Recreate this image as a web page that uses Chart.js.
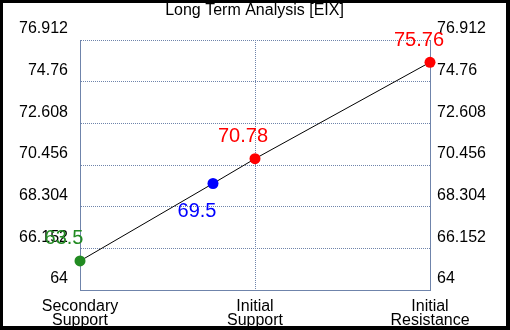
<!DOCTYPE html>
<html>
<head>
<meta charset="utf-8">
<script src="https://cdn.jsdelivr.net/npm/chart.js@4"></script>
<style>
  html, body { margin: 0; padding: 0; background: #000; }
  #wrap { position: absolute; left: 3px; top: 3px; width: 503px; height: 323px; background: #fff; }
</style>
</head>
<body>
<div id="wrap"><canvas id="chart" width="503" height="323"></canvas></div>
<script>
const title = "Long Term Analysis [EIX]";
const categories = [["Secondary", "Support"], ["Initial", "Support"], ["Initial", "Resistance"]];
const categoryPos = [0, 1, 2];
const pointX = [0, 0.76, 1, 2];
const pointY = [65.5, 69.5, 70.78, 75.76];
const pointText = ["63.5", "69.5", "70.78", "75.76"];
const pointColors = ["#228b22", "#0000ff", "#ff0000", "#ff0000"];
const yTicks = [64, 66.152, 68.304, 70.456, 72.608, 74.76, 76.912];

const gridColor = "#6f84ab";
const font = "'Liberation Sans', Arial, sans-serif";

// where each value label sits relative to its point
const labelShift = [[-16, -22], [-16, 28], [-12, -22], [-11, -22]];

const valueLabels = {
  id: "valueLabels",
  afterDatasetsDraw(chart) {
    const ctx = chart.ctx;
    const meta = chart.getDatasetMeta(0);
    ctx.save();
    ctx.font = "20px " + font;
    ctx.textAlign = "center";
    ctx.textBaseline = "middle";
    meta.data.forEach((pt, i) => {
      ctx.fillStyle = pointColors[i];
      ctx.fillText(pointText[i], pt.x + labelShift[i][0], pt.y + labelShift[i][1]);
    });
    ctx.restore();
  }
};

function setTicks(values) {
  return (scale) => { scale.ticks = values.map((v) => ({ value: v })); };
}

new Chart(document.getElementById("chart"), {
  type: "line",
  data: {
    datasets: [{
      data: pointX.map((x, i) => ({ x: x, y: pointY[i] })),
      borderColor: "#000",
      borderWidth: 1,
      pointRadius: 5.5,
      pointHoverRadius: 5.5,
      pointBorderWidth: 0,
      pointBackgroundColor: pointColors,
      tension: 0,
      clip: false,
      yAxisID: "y",
    }],
  },
  options: {
    responsive: false,
    animation: false,
    layout: { padding: 0 },
    plugins: {
      legend: { display: false },
      tooltip: { enabled: false },
      title: {
        display: true,
        text: title,
        color: "#000",
        font: { family: font, size: 16, weight: "normal", lineHeight: 1 },
        padding: { top: 0, bottom: 21 },
      },
    },
    scales: {
      x: {
        type: "linear",
        min: 0,
        max: 2,
        afterBuildTicks: setTicks(categoryPos),
        afterFit: (s) => { s.height = 36; },
        border: { display: true, color: gridColor, width: 1, dash: [1, 1] },
        grid: {
          color: (c) => (c.tick && c.tick.value === 1 ? gridColor : "rgba(0,0,0,0)"),
          lineWidth: 1,
          drawTicks: false,
        },
        ticks: {
          color: "#000",
          padding: 10,
          maxRotation: 0,
          autoSkip: false,
          font: { family: font, size: 16, lineHeight: 0.875 },
          callback: (v) => categories[categoryPos.indexOf(v)],
        },
      },
      y: {
        position: "left",
        min: 64,
        max: 76.912,
        afterBuildTicks: setTicks(yTicks),
        afterFit: (s) => { s.width = 77; },
        border: { display: true, color: gridColor, width: 1, dash: [1, 1] },
        grid: { color: gridColor, lineWidth: 1, drawTicks: false },
        ticks: {
          color: "#000",
          padding: 12,
          labelOffset: -11,
          font: { family: font, size: 16 },
          callback: (v) => String(v),
        },
      },
      y2: {
        position: "right",
        min: 64,
        max: 76.912,
        afterBuildTicks: setTicks(yTicks),
        afterFit: (s) => { s.width = 76; },
        border: { display: true, color: gridColor, width: 1 },
        grid: { display: false, drawTicks: false },
        ticks: {
          color: "#000",
          padding: 7,
          labelOffset: -11,
          font: { family: font, size: 16 },
          callback: (v) => String(v),
        },
      },
    },
  },
  plugins: [valueLabels],
});
</script>
</body>
</html>
